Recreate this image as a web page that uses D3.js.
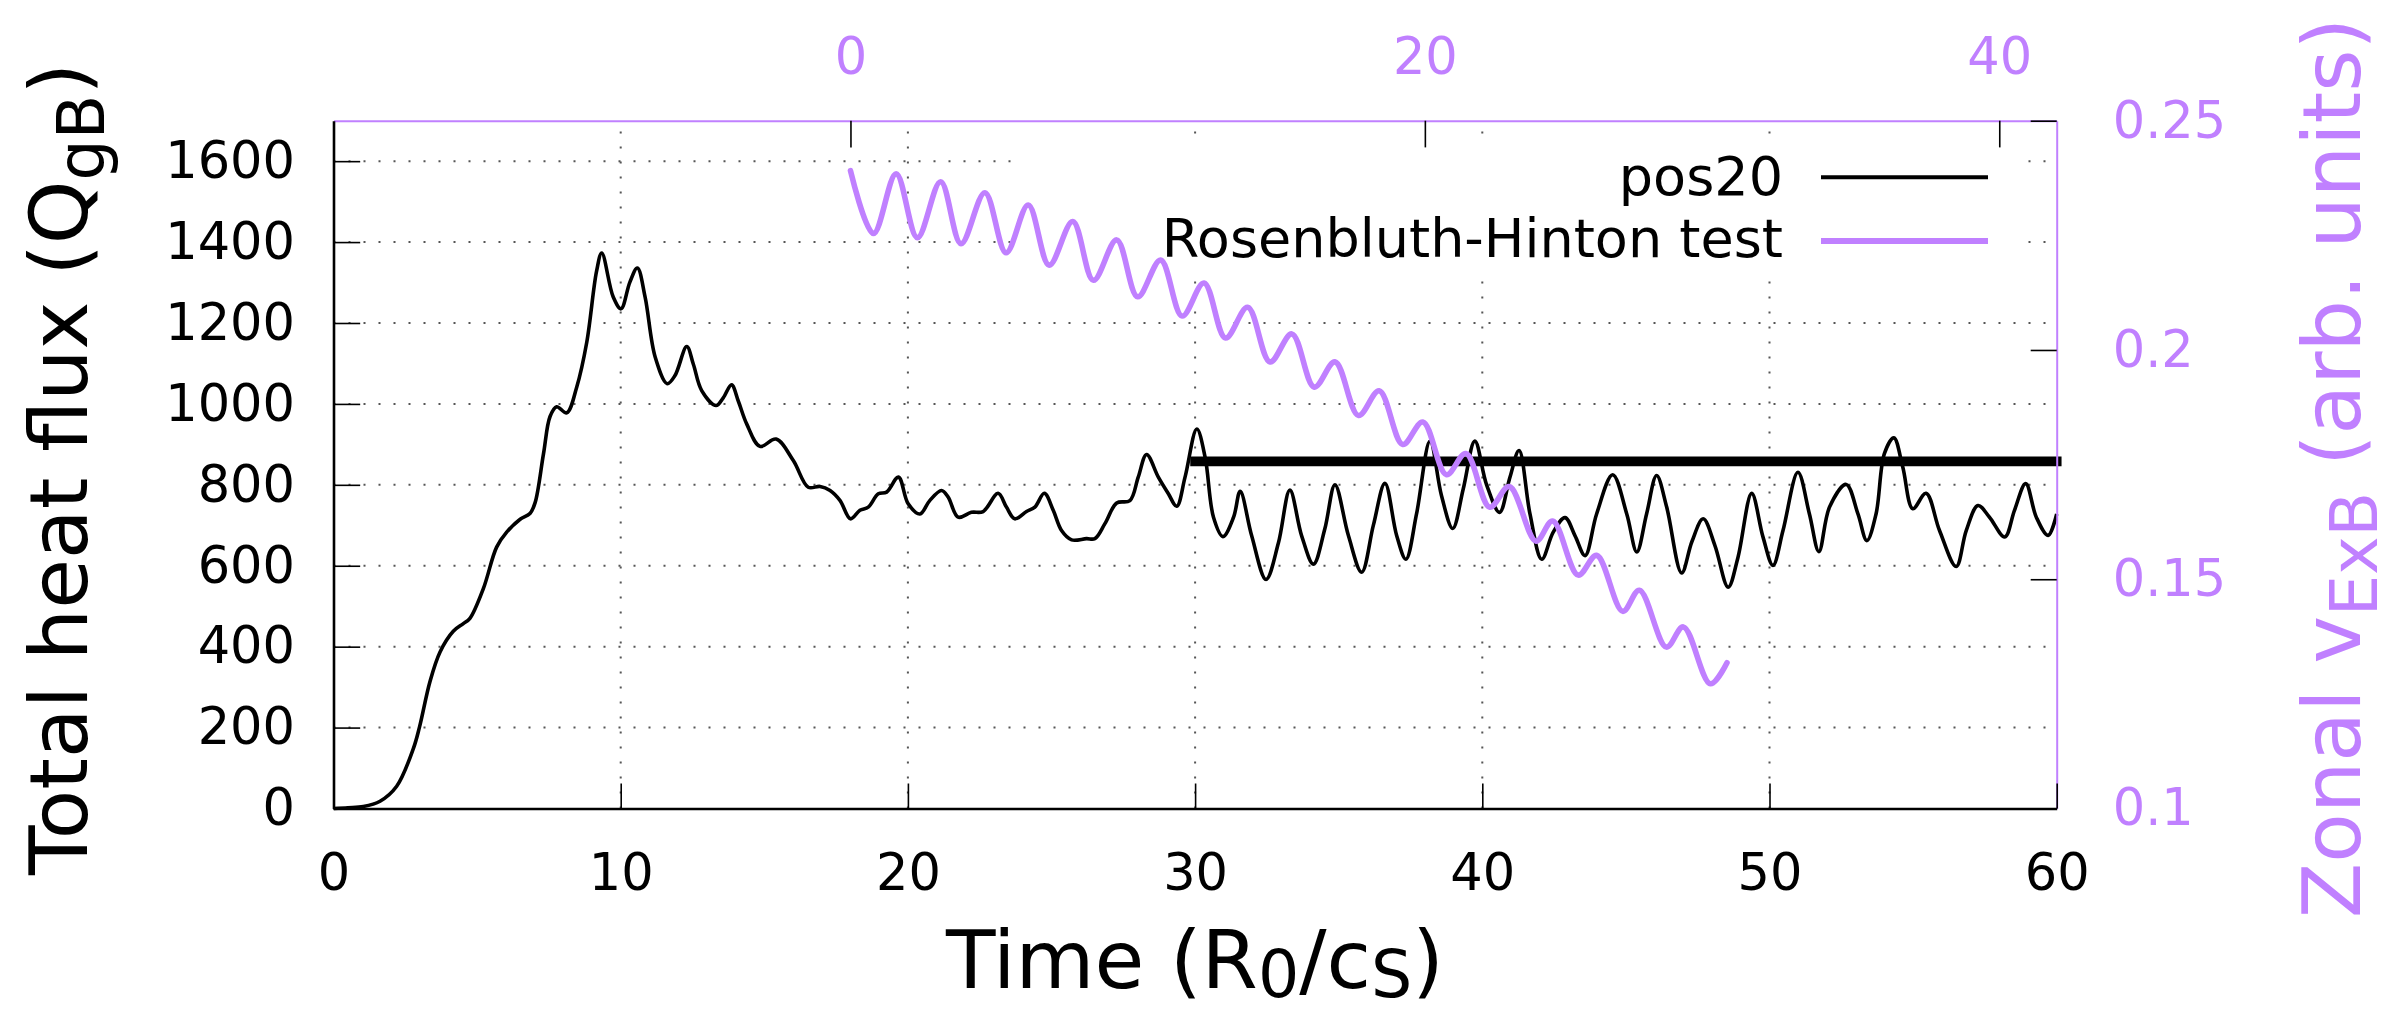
<!DOCTYPE html>
<html>
<head>
<meta charset="utf-8">
<script src="https://cdn.jsdelivr.net/npm/d3@7"></script>
<style>
    body {
        margin: 0;
        background: white;
    }
    svg {
        display: block;
        font-family: "DejaVu Sans", sans-serif;
    }
</style>
</head>
<body>
<svg id="Chart"></svg>
<script>
// pos20 total heat flux
let fluxTime = [0, 0.5, 1.04, 1.62, 2.2, 2.78, 3.0, 3.36, 3.71, 4.17,
    4.52, 4.75, 5.22, 5.68, 6.03, 6.5, 6.84, 7.02, 7.31, 7.54,
    7.77, 8.12, 8.47, 8.82, 9.16, 9.34, 9.74, 10.01, 10.32, 10.58,
    10.85, 11.2, 11.62, 11.89, 12.3, 12.53, 12.82, 13.32, 13.57, 13.86,
    14.1, 14.39, 14.85, 15.41, 16.01, 16.53, 16.94, 17.29, 17.64, 18.0,
    18.33, 18.62, 18.97, 19.26, 19.67, 20.01, 20.42, 20.76, 21.17, 21.4,
    21.75, 22.21, 22.62, 23.14, 23.43, 23.72, 24.13, 24.42, 24.75, 25.06,
    25.35, 25.7, 26.22, 26.51, 26.86, 27.27, 27.73, 28.02, 28.31, 28.72,
    29.07, 29.36, 29.65, 30.06, 30.35, 30.64, 30.97, 31.34, 31.57, 31.97,
    32.47, 32.9, 33.3, 33.71, 34.12, 34.52, 34.87, 35.34, 35.8, 36.21,
    36.61, 37.02, 37.34, 37.71, 38.18, 38.58, 38.97, 39.34, 39.74, 40.15,
    40.6, 40.96, 41.28, 41.66, 42.07, 42.47, 42.88, 43.23, 43.58, 43.98,
    44.54, 45.03, 45.38, 45.72, 46.07, 46.42, 46.94, 47.3, 47.69, 48.1,
    48.56, 48.9, 49.38, 49.77, 50.12, 50.47, 50.99, 51.39, 51.72, 52.09,
    52.67, 53.08, 53.39, 53.71, 54.0, 54.33, 54.64, 54.99, 55.45, 55.92,
    56.5, 56.85, 57.26, 57.66, 58.19, 58.53, 58.92, 59.29, 59.7, 60.0]
let fluxValue = [0, 2, 5, 18, 55, 148, 203, 314, 387, 438,
    457, 470, 544, 646, 683, 715, 729, 756, 876, 969,
    993, 978, 1042, 1153, 1328, 1373, 1264, 1235, 1301, 1336,
    1264, 1116, 1050, 1070, 1142, 1098, 1033, 996, 1015, 1047,
    1006, 950, 895, 913, 860, 794, 796, 786, 761, 716,
    737, 745, 778, 782, 819, 753, 728, 761, 786, 770,
    720, 732, 734, 779, 745, 716, 734, 745, 779, 737,
    687, 664, 667, 667, 704, 755, 761, 819, 875, 819,
    778, 747, 819, 938, 868, 720, 672, 720, 784, 674,
    566, 656, 787, 674, 604, 692, 800, 674, 584, 701,
    804, 674, 616, 728, 908, 773, 692, 791, 908, 800,
    732, 818, 885, 728, 616, 683, 719, 674, 625, 728,
    825, 728, 634, 728, 823, 745, 582, 660, 716, 650,
    547, 620, 779, 672, 601, 687, 831, 728, 635, 745,
    801, 728, 662, 728, 877, 916, 844, 741, 779, 687,
    598, 687, 749, 720, 671, 737, 803, 720, 675, 728]

// time average of pos20 over the saturated phase
let meanTime = [30, 60]
let meanValue = [858, 858]

// Rosenbluth-Hinton test, top / right axes
let rhTime = [0, 0.8, 1.59, 2.33, 3.14, 3.85, 4.68, 5.42, 6.19, 6.92,
    7.74, 8.46, 9.27, 10.0, 10.8, 11.55, 12.31, 13.06, 13.83, 14.61,
    15.37, 16.15, 16.87, 17.69, 18.41, 19.23, 19.93, 20.75, 21.43, 22.26,
    22.94, 23.87, 24.45, 25.34, 25.98, 26.89, 27.47, 28.41, 29.0, 29.94, 30.52]
let rhValue = [0.2391, 0.2254, 0.2384, 0.2245, 0.2367, 0.2232, 0.2343, 0.2212, 0.2316, 0.2185,
    0.2280, 0.2152, 0.2240, 0.2116, 0.2196, 0.2074, 0.2146, 0.2026, 0.2093, 0.1974,
    0.2035, 0.1919, 0.1974, 0.1857, 0.1911, 0.1794, 0.1843, 0.1728, 0.1774, 0.1657,
    0.1702, 0.1583, 0.1627, 0.1509, 0.1552, 0.1430, 0.1476, 0.1352, 0.1396, 0.1272, 0.1318]

let xTicks = [0, 10, 20, 30, 40, 50, 60]
let yTicks = [0, 200, 400, 600, 800, 1000, 1200, 1400, 1600]
let x2Ticks = [0, 20, 40]
let y2Ticks = [0.1, 0.15, 0.2, 0.25]
let seriesNames = ["pos20", "Rosenbluth-Hinton test"]

let purple = "#c080ff"

function getConfig() {
    let width = 2394
    let height = 1012
    let margin = { top: 120.7, bottom: 203.5, left: 333.5, right: 337.3 }
    let bodyWidth = width - margin.left - margin.right
    let bodyHeight = height - margin.top - margin.bottom
    let container = d3.select("#Chart")
        .attr("width", width)
        .attr("height", height)
    return { width, height, margin, bodyWidth, bodyHeight, container }
}

function getScales(config) {
    let { margin, width, height } = config
    let xRange = [margin.left, width - margin.right]
    let yRange = [height - margin.bottom, margin.top]
    let x = d3.scaleLinear().domain([0, 60]).range(xRange)
    let x2 = d3.scaleLinear().domain([-18, 42]).range(xRange)
    let y = d3.scaleLinear().domain([0, 1700]).range(yRange)
    let y2 = d3.scaleLinear().domain([0.1, 0.25]).range(yRange)
    return { x, x2, y, y2 }
}

function drawGrid(scales, config) {
    let { x, y } = scales
    let grid = config.container.append("g")
        .attr("stroke", "#555")
        .attr("stroke-width", 2)
        .attr("stroke-dasharray", "2,13")
    grid.selectAll(".hgrid").data(yTicks.filter(d => d > 0)).enter()
        .append("line")
        .attr("x1", x(0)).attr("x2", x(60))
        .attr("y1", d => y(d)).attr("y2", d => y(d))
    grid.selectAll(".vgrid").data(xTicks.filter(d => d > 0 && d < 60)).enter()
        .append("line")
        .attr("x1", d => x(d)).attr("x2", d => x(d))
        .attr("y1", y(0)).attr("y2", y(1700))
}

function drawLines(scales, config) {
    let { x, x2, y, y2 } = scales
    let body = config.container.append("g").attr("fill", "none")

    // opaque key background sits under the curves
    body.append("rect")
        .attr("x", 1013).attr("y", 140)
        .attr("width", 1005).attr("height", 140)
        .attr("fill", "white")

    let fluxLine = d3.line()
        .x(i => x(fluxTime[i]))
        .y(i => y(fluxValue[i]))
        .curve(d3.curveCatmullRom.alpha(0.5))
    body.append("path")
        .attr("d", fluxLine(d3.range(fluxTime.length)))
        .attr("stroke", "black")
        .attr("stroke-width", 3.6)
        .attr("stroke-linejoin", "round")

    let meanLine = d3.line()
        .x(i => x(meanTime[i]))
        .y(i => y(meanValue[i]))
    body.append("path")
        .attr("d", meanLine(d3.range(meanTime.length)))
        .attr("stroke", "black")
        .attr("stroke-width", 9.7)
        .attr("stroke-linecap", "square")

    let rhLine = d3.line()
        .x(i => x2(rhTime[i]))
        .y(i => y2(rhValue[i]))
        .curve(d3.curveCatmullRom.alpha(0.5))
    body.append("path")
        .attr("d", rhLine(d3.range(rhTime.length)))
        .attr("stroke", purple)
        .attr("stroke-width", 5.6)
        .attr("stroke-linejoin", "round")
        .attr("stroke-linecap", "round")
}

function styleAxis(g, textColor, domainColor, domainWidth) {
    g.attr("font-size", 51)
        .attr("font-family", "DejaVu Sans, sans-serif")
        .attr("color", "black")
    g.select(".domain")
        .attr("stroke", domainColor)
        .attr("stroke-width", domainWidth)
    g.selectAll(".tick line").attr("stroke-width", 1.6)
    g.selectAll(".tick text").attr("fill", textColor)
}

function drawAxes(scales, config) {
    let { x, x2, y, y2 } = scales
    let { container, margin, width, height } = config

    let axisTop = d3.axisTop(x2).tickValues(x2Ticks)
        .tickFormat(d3.format("d"))
        .tickSize(-26.7).tickSizeOuter(0).tickPadding(46.7)
    container.append("g")
        .attr("transform", `translate(0,${margin.top})`)
        .call(axisTop)
        .call(g => styleAxis(g, purple, purple, 2))

    let axisRight = d3.axisRight(y2).tickValues(y2Ticks)
        .tickFormat(d => String(d))
        .tickSize(-26).tickSizeOuter(0).tickPadding(56)
    container.append("g")
        .attr("transform", `translate(${width - margin.right},0)`)
        .call(axisRight)
        .call(g => styleAxis(g, purple, purple, 2))

    let axisBottom = d3.axisBottom(x).tickValues(xTicks)
        .tickFormat(d3.format("d"))
        .tickSize(-25).tickSizeOuter(0).tickPadding(45)
    container.append("g")
        .attr("transform", `translate(0,${height - margin.bottom})`)
        .call(axisBottom)
        .call(g => styleAxis(g, "black", "black", 2.6))

    let axisLeft = d3.axisLeft(y).tickValues(yTicks)
        .tickFormat(d3.format("d"))
        .tickSize(-26.7).tickSizeOuter(0).tickPadding(38.5)
    container.append("g")
        .attr("transform", `translate(${margin.left},0)`)
        .call(axisLeft)
        .call(g => styleAxis(g, "black", "black", 2.6))
}

function drawTitles(config) {
    let { container } = config

    let yTitle = container.append("text")
        .attr("transform", "translate(87,469) rotate(-90)")
        .attr("text-anchor", "middle")
        .attr("font-size", 81)
        .attr("fill", "black")
    yTitle.append("tspan").text("Total heat flux (Q")
    yTitle.append("tspan").attr("font-size", 65).attr("dy", 17).text("gB")
    yTitle.append("tspan").attr("dy", -17).text(")")

    let y2Title = container.append("text")
        .attr("transform", "translate(2360,468) rotate(-90)")
        .attr("text-anchor", "middle")
        .attr("font-size", 81)
        .attr("fill", purple)
    y2Title.append("tspan").text("Zonal v")
    y2Title.append("tspan").attr("font-size", 65).attr("dy", 17).text("ExB")
    y2Title.append("tspan").attr("dy", -17).text(" (arb. units)")

    let xTitle = container.append("text")
        .attr("x", 1195).attr("y", 988)
        .attr("text-anchor", "middle")
        .attr("font-size", 81)
        .attr("fill", "black")
    xTitle.append("tspan").text("Time (R")
    xTitle.append("tspan").attr("font-size", 65).attr("dy", 9).text("0")
    xTitle.append("tspan").attr("dy", -9).text("/c")
    xTitle.append("tspan").attr("font-size", 65).attr("dy", 9).text("S")
    xTitle.append("tspan").attr("dy", -9).text(")")
}

function drawLegend(config) {
    let { container } = config
    let colors = ["black", purple]
    let widths = [4, 6]
    let rowsText = [195, 257]
    let rowsLine = [177.3, 241]
    let legend = container.append("g")
    seriesNames.forEach((name, i) => {
        legend.append("text")
            .attr("x", 1783).attr("y", rowsText[i])
            .attr("text-anchor", "end")
            .attr("font-size", 54)
            .attr("fill", "black")
            .text(name)
        legend.append("line")
            .attr("x1", 1821).attr("x2", 1988)
            .attr("y1", rowsLine[i]).attr("y2", rowsLine[i])
            .attr("stroke", colors[i])
            .attr("stroke-width", widths[i])
    })
}

function drawChart() {
    let config = getConfig()
    let scales = getScales(config)
    drawGrid(scales, config)
    drawLines(scales, config)
    drawAxes(scales, config)
    drawTitles(config)
    drawLegend(config)
}

drawChart()
</script>
</body>
</html>
